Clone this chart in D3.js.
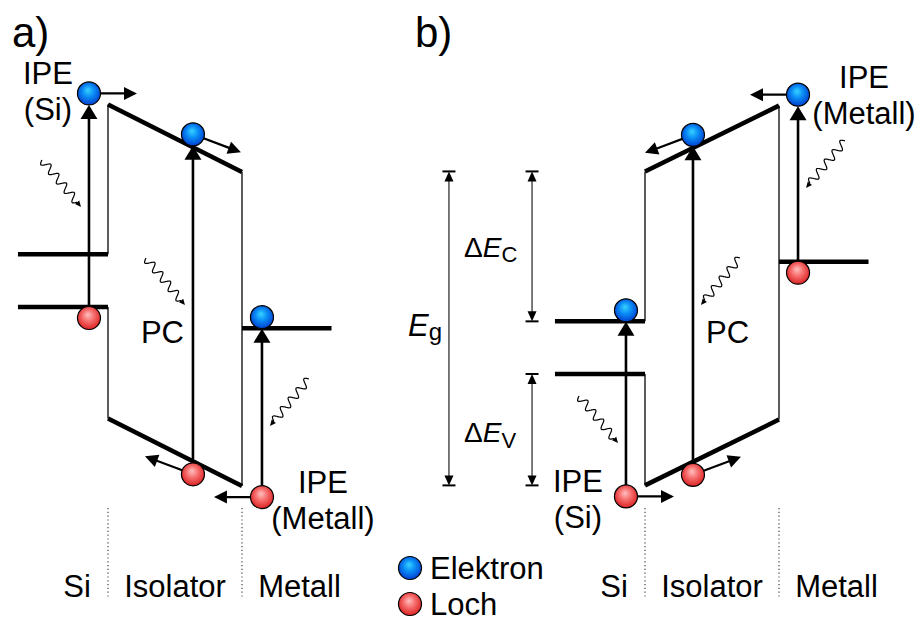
<!DOCTYPE html>
<html>
<head>
<meta charset="utf-8">
<script src="https://cdn.jsdelivr.net/npm/d3@7"></script>
<style>
  body { margin: 0; background: #fff; }
  svg { display: block; }
  text { font-family: "Liberation Sans", Arial, Helvetica, sans-serif; fill: #000; }
</style>
</head>
<body>
<svg id="chart" width="917" height="619"></svg>
<script>
// ---------- band structure parameters (eV) ----------
const panelLabels   = ["a)", "b)"];
const regionNames   = ["Si", "Isolator", "Metall"];
const carrierNames  = ["Elektron", "Loch"];
const siBandgap     = 1.12;            // Si: E_C - E_V
const bandOffsets   = [3.19, 2.37];    // ΔE_C, ΔE_V at the Si/insulator interface
const metalBarrier  = 3.32;            // insulator E_C above the metal Fermi level
const insulatorDrop = [-1.44, 1.40];   // band shift across the insulator (panel a, panel b)
const siExtent      = 0.672;           // Si slab width, in insulator thicknesses
const metalExtent   = 0.668;           // metal slab width, in insulator thicknesses

// excitation processes: position in the stack (insulator spans 0..1),
// the levels joined by the optical transition, photon energy where the photon arrives,
// and the drift of the created electron / hole
const processesA = [
  { id: "ipeSi", label: ["IPE", "(Si)"],     pos: -0.142, lower: "siVB",   upper: "insCBl", photonE:  2.13, from: -1, eDrift: "right" },
  { id: "pc",    label: ["PC"],              pos:  0.634, lower: "VB",     upper: "CB",     photonE:  0.04, from: -1, eDrift: "band",  hDrift: "band" },
  { id: "ipeM",  label: ["IPE", "(Metall)"], pos:  1.149, lower: "insVBr", upper: "EF",     photonE: -2.53, from:  1, hDrift: "left" }
];
const processesB = [
  { id: "ipeSi", label: ["IPE", "(Si)"],     pos: -0.142, lower: "insVBl", upper: "siCB",   photonE: -1.47, from: -1, hDrift: "right" },
  { id: "pc",    label: ["PC"],              pos:  0.358, lower: "VB",     upper: "CB",     photonE:  1.47, from:  1, eDrift: "band",  hDrift: "band" },
  { id: "ipeM",  label: ["IPE", "(Metall)"], pos:  1.142, lower: "EF",     upper: "insCBr", photonE:  3.96, from:  1, eDrift: "left" }
];

// ---------- drawing ----------
const svg = d3.select("#chart");
const defs = svg.append("defs");

function ballGradient(id, stops) {
  const g = defs.append("radialGradient").attr("id", id)
    .attr("cx", "50%").attr("cy", "45%").attr("r", "55%")
    .attr("fx", "45%").attr("fy", "35%");
  stops.forEach(([o, c]) => g.append("stop").attr("offset", o).attr("stop-color", c));
}
ballGradient("gElectron", [[0, "#38d2ff"], [0.45, "#0b8ff6"], [1, "#0040d0"]]);
ballGradient("gHole",     [[0, "#ffc0c0"], [0.45, "#f77070"], [1, "#dc2222"]]);

const FONT = 31;
const R = 11.5;               // carrier radius
const BAND_W = 4.5;           // band edge stroke
const WALL_W = 1.6;

// scales: stack position -> x, energy -> y (47 px per eV)
const xScales = [
  d3.scaleLinear().domain([0, 1]).range([108, 242]),
  d3.scaleLinear().domain([0, 1]).range([645, 779])
];
const yScales = [
  d3.scaleLinear().domain([0, 1]).range([307, 260]),
  d3.scaleLinear().domain([0, 1]).range([374, 327])
];

function levels(p) {
  const insCBl = siBandgap + bandOffsets[0];
  const insVBl = -bandOffsets[1];
  const insCBr = insCBl + insulatorDrop[p];
  const insVBr = insVBl + insulatorDrop[p];
  return {
    siCB: siBandgap, siVB: 0,
    insCBl, insVBl, insCBr, insVBr,
    EF: insCBr - metalBarrier
  };
}

function arrow(g, x1, y1, x2, y2, o) {
  const dx = x2 - x1, dy = y2 - y1, L = Math.hypot(dx, dy);
  const ux = dx / L, uy = dy / L;
  const bx = x2 - ux * o.head, by = y2 - uy * o.head;
  g.append("line")
    .attr("x1", x1).attr("y1", y1).attr("x2", bx + ux).attr("y2", by + uy)
    .attr("stroke", o.color || "#000").attr("stroke-width", o.w);
  g.append("path")
    .attr("d", `M${x2},${y2}L${bx - uy * o.hw / 2},${by + ux * o.hw / 2}L${bx + uy * o.hw / 2},${by - ux * o.hw / 2}Z`)
    .attr("fill", o.color || "#000");
}

function photon(g, x1, y1, x2, y2) {
  const dx = x2 - x1, dy = y2 - y1, L = Math.hypot(dx, dy);
  const ux = dx / L, uy = dy / L, nx = -uy, ny = ux;
  const head = 6, wl = L - head, waves = 4.5, amp = 4;
  const pts = d3.range(0, 161).map(i => {
    const s = i / 160 * wl;
    const a = amp * Math.sin(s / wl * waves * 2 * Math.PI);
    return [x1 + ux * s + nx * a, y1 + uy * s + ny * a];
  });
  g.append("path").attr("d", d3.line().curve(d3.curveBasis)(pts))
    .attr("fill", "none").attr("stroke", "#000").attr("stroke-width", 1.2);
  const bx = x2 - ux * head, by = y2 - uy * head, hw = 5.5;
  g.append("path")
    .attr("d", `M${x2},${y2}L${bx - uy * hw / 2},${by + ux * hw / 2}L${bx + uy * hw / 2},${by - ux * hw / 2}Z`)
    .attr("fill", "#000");
}

function carrier(g, cx, cy, kind) {
  g.append("circle").attr("cx", cx).attr("cy", cy).attr("r", R)
    .attr("fill", kind === "e" ? "url(#gElectron)" : "url(#gHole)")
    .attr("stroke", "#000").attr("stroke-width", 1.2);
}

// label placement relative to the transition (dx from arrow, dy from reference carrier)
const labelLayout = [
  { ipeSi: { dx: -41, ref: "e", dy: -9, anchor: "middle" },
    pc:    { dx: -9,  fixedY: 343, anchor: "end" },
    ipeM:  { dx: 61,  ref: "h", dy: -4, anchor: "middle" } },
  { ipeSi: { dx: -48, ref: "h", dy: -4, anchor: "middle" },
    pc:    { dx: 13,  fixedY: 343, anchor: "start" },
    ipeM:  { dx: 66,  ref: "e", dy: -7, anchor: "middle" } }
];

function drawPanel(p, processes) {
  const x = xScales[p], y = yScales[p], L = levels(p);
  const g = svg.append("g");
  const cb = t => L.insCBl + (L.insCBr - L.insCBl) * t;
  const vb = t => L.insVBl + (L.insVBr - L.insVBl) * t;

  // panel label
  g.append("text").attr("x", x(0) - (p === 0 ? 96 : 230)).attr("y", 47)
    .attr("font-size", 42).text(panelLabels[p]);

  // insulator walls (thin)
  const wall = (x0, e1, e2) => g.append("line")
    .attr("x1", x(x0)).attr("x2", x(x0)).attr("y1", y(e1)).attr("y2", y(e2))
    .attr("stroke", "#333").attr("stroke-width", WALL_W);
  wall(0, L.insCBl, L.siCB);
  wall(0, L.siVB, L.insVBl);
  wall(1, L.insCBr, L.insVBr);

  // band edges (thick)
  const band = (t1, e1, t2, e2) => g.append("line")
    .attr("x1", x(t1)).attr("y1", y(e1)).attr("x2", x(t2)).attr("y2", y(e2))
    .attr("stroke", "#000").attr("stroke-width", BAND_W);
  band(-siExtent, L.siCB, 0, L.siCB);
  band(-siExtent, L.siVB, 0, L.siVB);
  band(0, L.insCBl, 1, L.insCBr);
  band(0, L.insVBl, 1, L.insVBr);
  band(1, L.EF, 1 + metalExtent, L.EF);

  // region separators and names
  [0, 1].forEach(t => g.append("line")
    .attr("x1", x(t)).attr("x2", x(t)).attr("y1", 508).attr("y2", 598)
    .attr("stroke", "#444").attr("stroke-width", 1.2).attr("stroke-dasharray", "1.2,2.6"));
  const regionCenters = [x(0) - 31, x(0.5), x(1) + 57.5];
  regionNames.forEach((n, i) => g.append("text")
    .attr("x", regionCenters[i]).attr("y", 597).attr("text-anchor", "middle")
    .attr("font-size", FONT).text(n));

  const levelValue = (key, t) => key === "CB" ? cb(t) : key === "VB" ? vb(t) : L[key];
  const slope = (L.insCBr - L.insCBl);   // sign of band tilt

  const lay = labelLayout[p];
  const arrowsLayer = g.append("g"), ballLayer = g.append("g"), textLayer = g.append("g");

  processes.forEach(pr => {
    const ax = x(pr.pos);
    const onSlope = pr.id === "pc";
    const off = onSlope ? 13 : 11;
    const ey = y(levelValue(pr.upper, pr.pos)) - off;
    const hy = y(levelValue(pr.lower, pr.pos)) + off;

    // photon
    const px = ax + pr.from * 8, py = y(pr.photonE);
    photon(arrowsLayer, px + pr.from * 39, py - 47, px, py);

    // optical transition
    arrow(arrowsLayer, ax, hy, ax, ey + R, { w: 2.6, head: 14, hw: 17 });

    // drift of carriers
    const drift = (cx, cy, dir, isElectron) => {
      if (!dir) return;
      let vx, vy;
      if (dir === "right") { vx = 48; vy = 0; }
      else if (dir === "left") { vx = -48; vy = 0; }
      else {
        // along the tilted band: electrons roll down, holes float up
        const down = slope < 0 ? 1 : -1;            // +1: energy falls to the right
        const sx = isElectron ? down : -down;
        vx = 48 * sx;
        vy = 18 * (isElectron ? 1 : -1);
      }
      arrow(arrowsLayer, cx, cy, cx + vx, cy + vy, { w: 2.2, head: 13, hw: 13 });
    };
    drift(ax, ey, pr.eDrift, true);
    drift(ax, hy, pr.hDrift, false);

    carrier(ballLayer, ax, ey, "e");
    carrier(ballLayer, ax, hy, "h");

    // label
    const l = lay[pr.id];
    const by = l.fixedY !== undefined ? l.fixedY : (l.ref === "e" ? ey : hy) + l.dy;
    pr.label.forEach((s, i) => textLayer.append("text")
      .attr("x", ax + l.dx).attr("y", by + i * 36)
      .attr("text-anchor", l.anchor).attr("font-size", FONT).text(s));
  });
  return L;
}

drawPanel(0, processesA);
const LB = drawPanel(1, processesB);

// ---------- band offset dimensions (panel b, Si/insulator interface) ----------
const xb = xScales[1], yb = yScales[1];
const dims = svg.append("g");
function dimension(xp, e1, e2) {
  const yt = yb(e1), ybt = yb(e2), c = "#222";
  dims.append("line").attr("x1", xp).attr("x2", xp).attr("y1", yt + 6).attr("y2", ybt - 6)
    .attr("stroke", c).attr("stroke-width", 1.2);
  [[yt, 1], [ybt, -1]].forEach(([yy, s]) => {
    dims.append("line").attr("x1", xp - 6.5).attr("x2", xp + 6.5).attr("y1", yy).attr("y2", yy)
      .attr("stroke", "#000").attr("stroke-width", 2);
    dims.append("path").attr("d", `M${xp},${yy}L${xp - 4.5},${yy + s * 10}L${xp + 4.5},${yy + s * 10}Z`)
      .attr("fill", "#000");
  });
}
dimension(xb(-1.463), LB.insCBl, LB.insVBl);   // E_g
dimension(xb(-0.843), LB.insCBl, LB.siCB);     // ΔE_C
dimension(xb(-0.843), LB.siVB, LB.insVBl);     // ΔE_V

function symbol(xp, yp, size, subSize, shift, prefix, main, sub) {
  const t = dims.append("text").attr("x", xp).attr("y", yp).attr("font-size", size);
  if (prefix) t.append("tspan").text(prefix);
  t.append("tspan").attr("font-style", "italic").text(main);
  t.append("tspan").attr("font-size", subSize).attr("dy", shift).text(sub);
}
symbol(408, 336, FONT, 24, 4, "", "E", "g");
symbol(464, 257, 28, 22, 5, "\u0394", "E", "C");
symbol(464, 442, 28, 22, 6, "\u0394", "E", "V");

// ---------- legend ----------
const legend = svg.append("g");
carrierNames.forEach((n, i) => {
  const cy = 568 + i * 36;
  carrier(legend, 410, cy, i === 0 ? "e" : "h");
  legend.append("text").attr("x", 430).attr("y", cy + 11).attr("font-size", FONT).text(n);
});
</script>
</body>
</html>
